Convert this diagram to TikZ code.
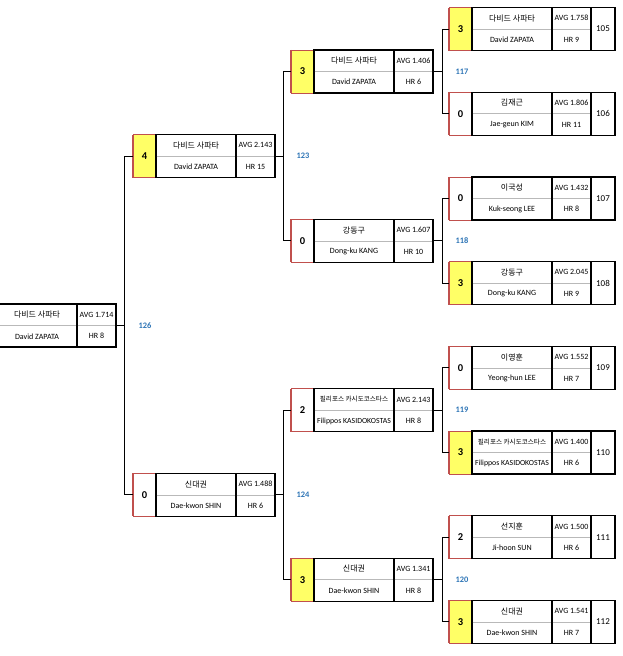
\documentclass[tikz,border=0pt]{standalone}
\usepackage{fontspec}
\setmainfont{Carlito}
\newfontfamily\kr{Noto Sans CJK KR}
\usepackage{tikz}
\usetikzlibrary{positioning}

\definecolor{winfill}{RGB}{255,255,102}
\definecolor{losered}{RGB}{192,80,77}
\definecolor{seedblue}{RGB}{46,117,182}

\tikzset{
    scorebox/.style={draw=losered, line width=0.6pt, minimum width=23pt, minimum height=43pt,
        inner sep=0pt, outer sep=0pt, anchor=west, font=\fontsize{10.5}{12}\selectfont\bfseries},
    namebox/.style={draw, line width=1.2pt, minimum width=80pt, minimum height=43pt, inner sep=0pt, outer sep=0pt},
    avgbox/.style={namebox, minimum width=39pt},
    numbox/.style={namebox, minimum width=24pt, font=\fontsize{9}{10}\selectfont},
    txt/.style={inner sep=0pt, font=\fontsize{8}{9}\selectfont},
    midline/.style={gray!55, line width=0.5pt},
    redline/.style={losered, line width=1.5pt},
    link/.style={line width=0.9pt},
    seed/.style={text=seedblue, inner sep=0pt, font=\fontsize{8.4}{10}\selectfont\bfseries}
}

% name / avg cells of one entry
\newcommand{\card}[6]{%
    \node[namebox, anchor=west] (#1n) at (#2) {};
    \node[avgbox, right=0pt of #1n] (#1a) {};
    \draw[midline] ([xshift=0.7pt]#1n.west) -- ([xshift=-0.7pt]#1n.east);
    \draw[midline] ([xshift=0.7pt]#1a.west) -- ([xshift=-0.7pt]#1a.east);
    \node[txt] (#1k) at ([yshift=10.75pt]#1n.center) {\kr #3};
    \node[txt] (#1l) at ([yshift=-10.75pt]#1n.center) {#4};
    \node[txt] (#1v) at ([yshift=10.75pt]#1a.center) {AVG #5};
    \node[txt] (#1h) at ([yshift=-10.75pt]#1a.center) {HR #6};
}
% score cell + card
\newcommand{\player}[9]{%
    \node[scorebox, fill=#5] (#1s) at (#2,#3) {#4};
    \draw[redline] (#1s.north west) -- (#1s.south west);
    \card{#1}{#1s.east}{#6}{#7}{#8}{#9}
}

\begin{document}
\begin{tikzpicture}[x=1pt, y=-1pt]
    \useasboundingbox (0,0) rectangle (623,656);

    \player{p105}{449}{29}{3}{winfill}{다비드 사파타}{David ZAPATA}{1.758}{9}
    \player{p106}{449}{113.7}{0}{white}{김재근}{Jae-geun KIM}{1.806}{11}
    \player{p107}{449}{198.4}{0}{white}{이국성}{Kuk-seong LEE}{1.432}{8}
    \player{p108}{449}{283.1}{3}{winfill}{강동구}{Dong-ku KANG}{2.045}{9}
    \player{p109}{449}{367.8}{0}{white}{이영훈}{Yeong-hun LEE}{1.552}{7}
    \player{p110}{449}{452.5}{3}{winfill}{\fontsize{6.6}{8}\selectfont 필리포스 카시도코스타스}{\fontsize{7.8}{9}\selectfont Filippos KASIDOKOSTAS}{1.400}{6}
    \player{p111}{449}{537.2}{2}{white}{선지훈}{Ji-hoon SUN}{1.500}{6}
    \player{p112}{449}{621.9}{3}{winfill}{신대권}{Dae-kwon SHIN}{1.541}{7}

    \node[numbox, right=0pt of p105a] (p105c) {105};
    \node[numbox, right=0pt of p106a] (p106c) {106};
    \node[numbox, right=0pt of p107a] (p107c) {107};
    \node[numbox, right=0pt of p108a] (p108c) {108};
    \node[numbox, right=0pt of p109a] (p109c) {109};
    \node[numbox, right=0pt of p110a] (p110c) {110};
    \node[numbox, right=0pt of p111a] (p111c) {111};
    \node[numbox, right=0pt of p112a] (p112c) {112};

    \player{q117}{291}{71.4}{3}{winfill}{다비드 사파타}{David ZAPATA}{1.406}{6}
    \player{q118}{291}{240.8}{0}{white}{강동구}{Dong-ku KANG}{1.607}{10}
    \player{q119}{291}{410.2}{2}{white}{\fontsize{6.6}{8}\selectfont 필리포스 카시도코스타스}{\fontsize{7.8}{9}\selectfont Filippos KASIDOKOSTAS}{2.143}{8}
    \player{q120}{291}{579.6}{3}{winfill}{신대권}{Dae-kwon SHIN}{1.341}{8}

    \player{r123}{133}{156.1}{4}{winfill}{다비드 사파타}{David ZAPATA}{2.143}{15}
    \player{r124}{133}{494.9}{0}{white}{신대권}{Dae-kwon SHIN}{1.488}{6}

    \coordinate (f126w) at (-3,325.5);
    \card{f126}{f126w}{다비드 사파타}{David ZAPATA}{1.714}{8}

    \draw[link] (p105s.west) -- ++(-7,0) coordinate (b117) |- (p106s.west);
    \draw[link] (q117a.east) -- (b117 |- q117a.east);
    \node[seed] (l117) at ([xshift=20pt]b117 |- q117a.east) {117};

    \draw[link] (p107s.west) -- ++(-7,0) coordinate (b118) |- (p108s.west);
    \draw[link] (q118a.east) -- (b118 |- q118a.east);
    \node[seed] (l118) at ([xshift=20pt]b118 |- q118a.east) {118};

    \draw[link] (p109s.west) -- ++(-7,0) coordinate (b119) |- (p110s.west);
    \draw[link] (q119a.east) -- (b119 |- q119a.east);
    \node[seed] (l119) at ([xshift=20pt]b119 |- q119a.east) {119};

    \draw[link] (p111s.west) -- ++(-7,0) coordinate (b120) |- (p112s.west);
    \draw[link] (q120a.east) -- (b120 |- q120a.east);
    \node[seed] (l120) at ([xshift=20pt]b120 |- q120a.east) {120};

    \draw[link] (q117s.west) -- ++(-8,0) coordinate (b123) |- (q118s.west);
    \draw[link] (r123a.east) -- (b123 |- r123a.east);
    \node[seed] (l123) at ([xshift=20pt]b123 |- r123a.east) {123};

    \draw[link] (q119s.west) -- ++(-8,0) coordinate (b124) |- (q120s.west);
    \draw[link] (r124a.east) -- (b124 |- r124a.east);
    \node[seed] (l124) at ([xshift=20pt]b124 |- r124a.east) {124};

    \draw[link] (r123s.west) -- ++(-9,0) coordinate (b126) |- (r124s.west);
    \draw[link] (f126a.east) -- (b126 |- f126a.east);
    \node[seed] (l126) at ([xshift=21pt]b126 |- f126a.east) {126};
\end{tikzpicture}
\end{document}
